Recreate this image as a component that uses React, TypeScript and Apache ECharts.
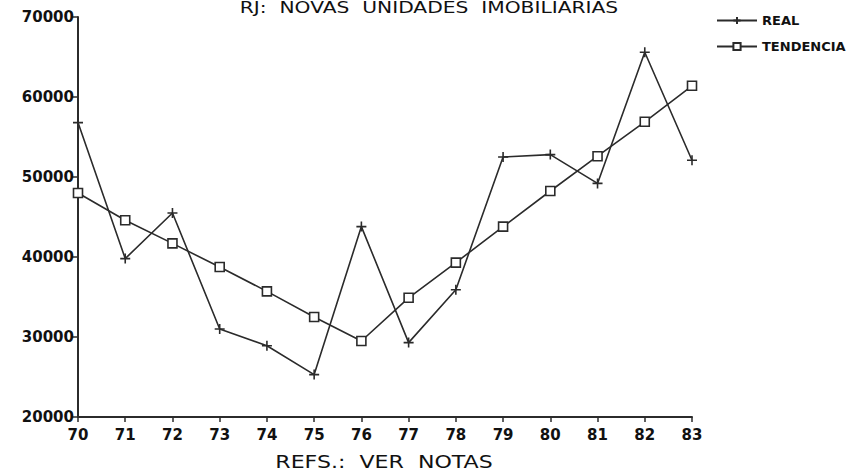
import React, { useEffect, useRef } from "react";
import * as echarts from "echarts";

const years = ["70", "71", "72", "73", "74", "75", "76", "77", "78", "79", "80", "81", "82", "83"];
const real = [56800, 39800, 45500, 31000, 28900, 25300, 43800, 29300, 35900, 52500, 52800, 49200, 65600, 52100];
const tendencia = [48000, 44600, 41700, 38750, 35700, 32500, 29500, 34900, 39300, 43800, 48250, 52600, 56900, 61400];
const yTicks = { min: 20000, max: 70000, interval: 10000 };
const titleText = "RJ:  NOVAS  UNIDADES  IMOBILIARIAS";
const xAxisTitle = "REFS.:  VER  NOTAS";

const INK = "#2b2b2b";
const FONT = "DejaVu Sans";

export default function App() {
  const ref = useRef<HTMLDivElement>(null);
  useEffect(() => {
    if (!ref.current) return;
    const chart = echarts.init(ref.current, undefined, { renderer: "svg" });
    chart.setOption({
      animation: false,
      backgroundColor: "#ffffff",
      graphic: [
        {
          type: "text",
          x: 429,
          y: 0,
          scaleX: 1.35,
          style: {
            text: titleText,
            fontFamily: FONT,
            fontSize: 15,
            fill: "#111",
            textAlign: "center",
            textVerticalAlign: "top",
          },
        },
        {
          type: "text",
          x: 384,
          y: 462,
          scaleX: 1.3,
          style: {
            text: xAxisTitle,
            fontFamily: FONT,
            fontSize: 17,
            fill: "#111",
            textAlign: "center",
            textVerticalAlign: "middle",
          },
        },
      ],
      legend: {
        orient: "vertical",
        left: 711,
        top: 9,
        itemWidth: 40,
        itemHeight: 9,
        itemGap: 13,
        textStyle: { fontFamily: FONT, fontSize: 13, fontWeight: "bold", color: "#111" },
        data: ["REAL", "TENDENCIA"],
      },
      grid: { left: 78, right: 167, top: 17, bottom: 54, containLabel: false },
      xAxis: {
        type: "category",
        data: years,
        boundaryGap: false,
        axisLine: { lineStyle: { color: INK, width: 2 } },
        axisTick: { show: true, length: 5, inside: false, lineStyle: { color: INK, width: 1.5 } },
        axisLabel: { fontFamily: FONT, fontSize: 15, fontWeight: "bold", color: "#111", margin: 10 },
        splitLine: { show: false },
      },
      yAxis: {
        type: "value",
        min: yTicks.min,
        max: yTicks.max,
        interval: yTicks.interval,
        axisLine: { show: true, lineStyle: { color: INK, width: 2 } },
        axisTick: { show: true, length: 7, lineStyle: { color: INK, width: 1.5 } },
        axisLabel: {
          fontFamily: FONT,
          fontSize: 15,
          fontWeight: "bold",
          color: "#111",
          margin: 4,
          formatter: (v: number) => String(v),
        },
        splitLine: { show: false },
      },
      series: [
        {
          name: "REAL",
          type: "line",
          data: real,
          symbol: "path://M5,0L5,10M0,5L10,5",
          symbolSize: 10,
          showAllSymbol: true,
          lineStyle: { color: INK, width: 1.6 },
          itemStyle: { color: "rgba(0,0,0,0)", borderColor: INK, borderWidth: 1.6 },
        },
        {
          name: "TENDENCIA",
          type: "line",
          data: tendencia,
          symbol: "rect",
          symbolSize: 9,
          showAllSymbol: true,
          lineStyle: { color: INK, width: 1.6 },
          itemStyle: { color: "#ffffff", borderColor: INK, borderWidth: 1.6 },
        },
      ],
    });
    return () => chart.dispose();
  }, []);
  return <div ref={ref} style={{ width: 859, height: 471, position: "absolute", left: 0, top: 0 }} />;
}
